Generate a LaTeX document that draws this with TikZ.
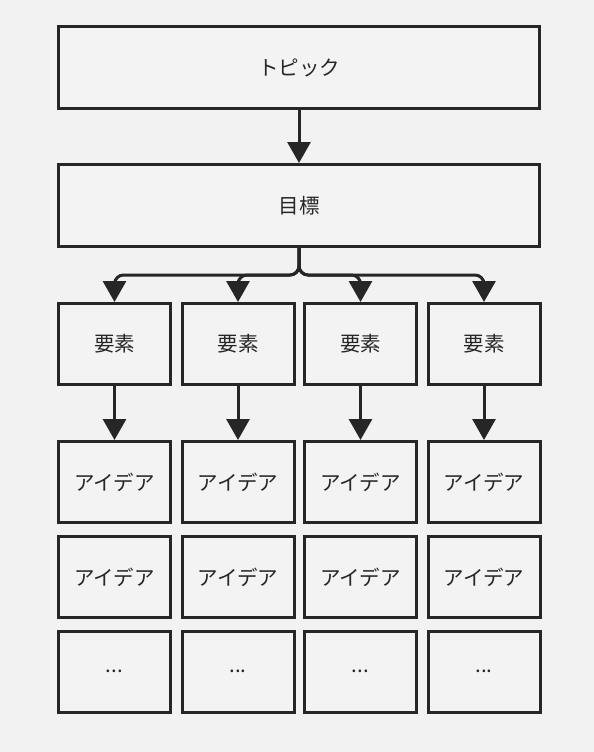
\documentclass[tikz,border=0pt]{standalone}
\usepackage{fontspec}
\setmainfont{Noto Sans CJK JP}
\usetikzlibrary{arrows.meta}
\definecolor{bg}{HTML}{F2F2F2}
\definecolor{boxfill}{HTML}{F3F3F3}
\definecolor{ink}{HTML}{262626}
\begin{document}
\begin{tikzpicture}[x=1pt,y=-1pt,
  box/.style={draw=ink, fill=boxfill, line width=3pt, inner sep=0pt, font=\fontsize{20.5}{24}\selectfont, text=ink},
  wide/.style={box, minimum width=481pt, minimum height=82pt},
  cell/.style={box, minimum width=112pt, minimum height=81pt},
  arr/.style={draw=ink, line width=3pt, -{Triangle[width=23pt,length=21pt]}}
]
\fill[bg] (0,0) rectangle (594,752);
\useasboundingbox (0,0) rectangle (594,752);

\node[wide] (topic) at (299,67.5) {トピック};
\node[wide] (goal) at (299,205.5) {目標};

\foreach \i/\x in {1/114.5, 2/238, 3/360.5, 4/484} {
  \node[cell] (e\i) at (\x,344) {要素};
  \node[cell] (a\i) at (\x,482) {アイデア};
  \node[cell] (b\i) at (\x,577) {アイデア};
  \node[cell] (c\i) at (\x,671.5) {...};
  \draw[arr] (e\i.south) -- (a\i.north);
}

\draw[arr] (topic.south) -- (goal.north);
\coordinate (bj) at (299,275);
\foreach \i in {1,2,3,4} {
  \draw[arr, rounded corners=9pt] (goal.south) -- (bj) -| (e\i.north);
}
\end{tikzpicture}
\end{document}
